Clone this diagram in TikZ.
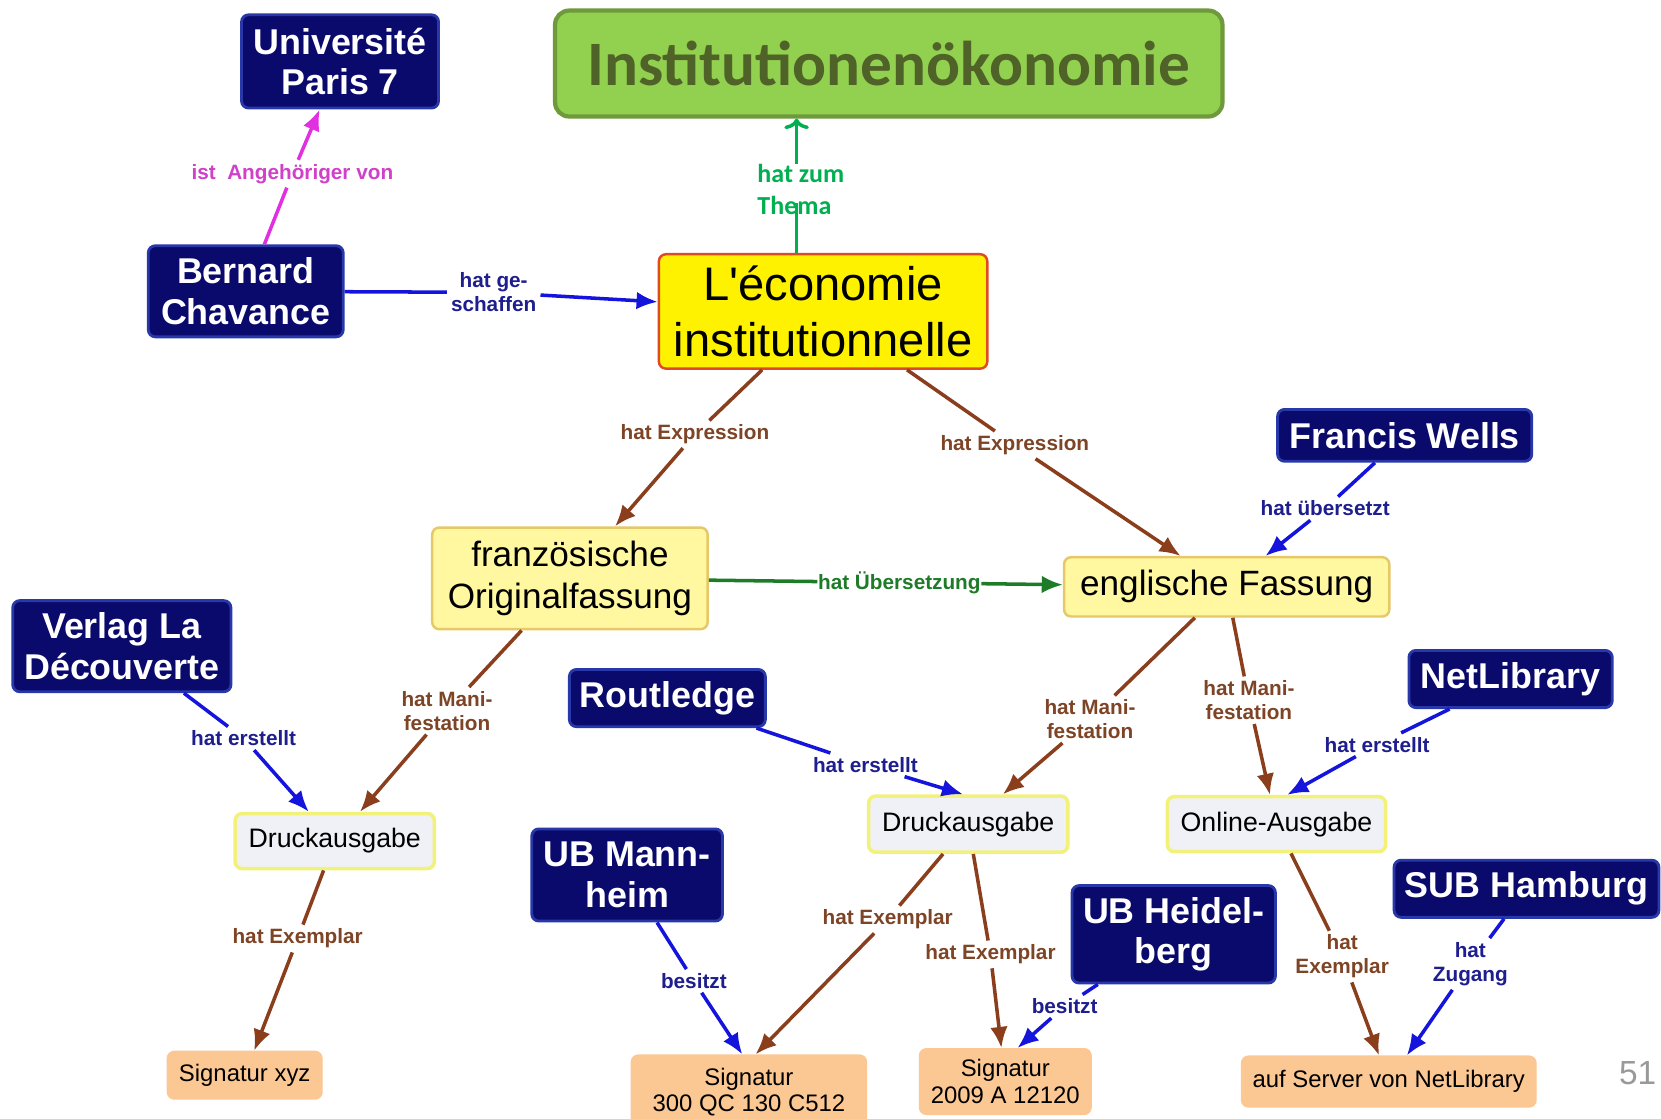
\documentclass[tikz,border=0pt]{standalone}
\usepackage{fontspec}
\setmainfont{Liberation Sans}
\newfontfamily\calfont{Carlito}
\usepackage{tikz}
\usetikzlibrary{arrows.meta}
\usepackage{xcolor}

\definecolor{navyfill}{HTML}{0A0A6C}
\definecolor{navyedge}{HTML}{2838A8}
\definecolor{topicfill}{HTML}{92D050}
\definecolor{topicedge}{HTML}{6E9A3C}
\definecolor{topictext}{HTML}{4F6228}
\definecolor{workedge}{HTML}{E04A22}
\definecolor{exprfill}{HTML}{FFF8A0}
\definecolor{expredge}{HTML}{E6C868}
\definecolor{maniffill}{HTML}{EFF1F6}
\definecolor{manifedge}{HTML}{F2F27A}
\definecolor{itemfill}{HTML}{FBC894}
\definecolor{arrbrown}{HTML}{8B3E1C}
\definecolor{txtbrown}{HTML}{7E4426}
\definecolor{arrblue}{HTML}{1414DC}
\definecolor{txtblue}{HTML}{1E1E8E}
\definecolor{arrmagenta}{HTML}{E030E0}
\definecolor{txtmagenta}{HTML}{D040C8}
\definecolor{arrgreen}{HTML}{1E7B28}
\definecolor{themagreen}{HTML}{00B050}

\newlength\unitpx
\setlength\unitpx{0.10593mm}

\tikzset{
  boxwh/.style 2 args={minimum width=#1\unitpx, minimum height=#2\unitpx},
  person/.style={fill=navyfill, draw=navyedge, line width=0.8pt, rounded corners=2pt,
    text=white, align=center, inner sep=0pt,
    font=\fontsize{10.2}{11.5}\selectfont\bfseries},
  topic/.style={fill=topicfill, draw=topicedge, line width=1.2pt, rounded corners=4pt,
    text=topictext, inner sep=0pt, font=\calfont\fontsize{18}{20}\selectfont\bfseries},
  mainwork/.style={fill=yellow, draw=workedge, line width=0.7pt, rounded corners=2pt,
    align=center, inner sep=0pt, font=\fontsize{13.4}{15.7}\selectfont},
  expr/.style={fill=exprfill, draw=expredge, line width=0.7pt, rounded corners=2pt,
    align=center, inner sep=0pt, font=\fontsize{10}{11.8}\selectfont},
  manif/.style={fill=maniffill, draw=manifedge, line width=1pt, rounded corners=2pt,
    inner sep=0pt, font=\fontsize{7.6}{9}\selectfont},
  item/.style={fill=itemfill, draw=itemfill, rounded corners=2pt, align=center,
    inner sep=0pt, font=\fontsize{6.8}{7.6}\selectfont},
  rel/.style={align=center, inner sep=1pt, font=\fontsize{5.9}{6.8}\selectfont\bfseries},
  brownarr/.style={draw=arrbrown, line width=1pt, -{Latex[length=6pt,width=5pt]}},
  bluearr/.style={draw=arrblue, line width=1pt, -{Latex[length=6pt,width=5pt]}},
  magentaarr/.style={draw=arrmagenta, line width=1pt, -{Latex[length=6pt,width=5pt]}},
  greenarr/.style={draw=arrgreen, line width=1pt, -{Latex[length=6pt,width=5pt]}},
  themaarr/.style={draw=themagreen, line width=1pt},
}

\begin{document}
\begin{tikzpicture}[x=0.10593mm, y=-0.10593mm]
    \useasboundingbox (0,0) rectangle (1568,1056.3);
    \fill[white] (0,0) rectangle (1568,1056.3);

    % concepts
    \node[person, boxwh={186}{88}] (univ) at (321,58) {Université\\Paris 7};
    \node[topic, boxwh={630}{100}] (inst) at (839,60) {Institutionenökonomie};
    \node[person, boxwh={184}{86}] (bernard) at (232,275) {Bernard\\Chavance};
    \node[mainwork, boxwh={310}{108}] (econ) at (777,294) {L\textquotesingle économie\\institutionnelle};
    \node[expr, boxwh={260}{96}] (franz) at (538,546) {französische\\Originalfassung};
    \node[expr, boxwh={307}{56}] (engl) at (1158,554) {englische Fassung};
    \node[person, boxwh={240}{49}] (francis) at (1326,411) {Francis Wells};
    \node[person, boxwh={206}{86}] (verlag) at (115,610) {Verlag La\\Découverte};
    \node[manif, boxwh={188}{52}] (druckfr) at (316,794) {Druckausgabe};
    \node[person, boxwh={185}{54}] (routledge) at (630,659) {Routledge};
    \node[manif, boxwh={188}{53}] (druckeng) at (914,778) {Druckausgabe};
    \node[manif, boxwh={206}{52}] (online) at (1205,778) {Online-Ausgabe};
    \node[person, boxwh={192}{54}] (netlib) at (1426,641) {NetLibrary};
    \node[person, boxwh={180}{87}] (ubma) at (592,826) {UB Mann-\\heim};
    \node[person, boxwh={192}{92}] (ubhd) at (1108,882) {UB Heidel-\\berg};
    \node[person, boxwh={250}{54}] (subhh) at (1441,839) {SUB Hamburg};
    \node[item, boxwh={146}{45}] (sigxyz) at (231,1015) {Signatur xyz};
    \node[item, boxwh={222}{70}] (sigma) at (707,1031) {Signatur\\300 QC 130 C512};
    \node[item, boxwh={162}{62}] (sighd) at (949,1021) {Signatur\\2009 A 12120};
    \node[item, boxwh={278}{48}] (server) at (1311,1021) {auf Server von NetLibrary};

    \node[text=gray!80, font=\fontsize{9.5}{11}\selectfont] (pagenum) at (1546,1013) {51};

    % link labels
    \node[rel, text=txtmagenta] (lmember) at (276,164) {ist\ \ Angehöriger von};
    \node[align=left, inner sep=0pt, text=themagreen,
          font=\calfont\fontsize{7.4}{9}\selectfont\bfseries] (lthema) at (756,179) {hat zum\\Thema};
    \node[rel, text=txtblue] (lcreated) at (466,276) {hat ge-\\schaffen};
    \node[rel, text=txtbrown] (lexpfr) at (656,410) {hat Expression};
    \node[rel, text=txtbrown] (lexpen) at (958,420) {hat Expression};
    \node[rel, text=txtblue] (ltrans) at (1251,480) {hat übersetzt};
    \node[rel, text=arrgreen, inner sep=0pt] (ltransl) at (849,550) {hat Übersetzung};
    \node[rel, text=txtblue] (lmadefr) at (230,697) {hat erstellt};
    \node[rel, text=txtbrown] (lmanfr) at (422,671) {hat Mani-\\festation};
    \node[rel, text=txtblue] (lmadeeng) at (817,722) {hat erstellt};
    \node[rel, text=txtbrown] (lmaneng) at (1029,679) {hat Mani-\\festation};
    \node[rel, text=txtbrown] (lmanon) at (1179,661) {hat Mani-\\festation};
    \node[rel, text=txtblue] (lmadeon) at (1300,703) {hat erstellt};
    \node[rel, text=txtbrown] (lcopyfr) at (281,886) {hat Exemplar};
    \node[rel, text=txtblue] (lownma) at (655,926) {besitzt};
    \node[rel, text=txtbrown] (lcopyma) at (838,868) {hat Exemplar};
    \node[rel, text=txtbrown] (lcopyhd) at (935,901) {hat Exemplar};
    \node[rel, text=txtblue] (lownhd) at (1005,950) {besitzt};
    \node[rel, text=txtbrown] (lcopyon) at (1267,903) {hat\\Exemplar};
    \node[rel, text=txtblue] (laccess) at (1388,910) {hat\\Zugang};

    % topic link, the line runs into the label
    \coordinate (thm) at (752,192);
    \draw[themaarr] (econ.north -| thm) -- (thm);
    \draw[themaarr, -{To[length=3pt,width=7pt]}] (lthema.north -| thm) -- (inst.south -| thm);

    % links
    \draw[magentaarr] (bernard) -- (lmember) -- (univ);
    \draw[bluearr] (bernard) -- (lcreated) -- (econ);
    \draw[brownarr] (econ) -- (lexpfr) -- (franz);
    \draw[brownarr] (econ) -- (lexpen) -- (engl);
    \draw[bluearr] (francis) -- (ltrans) -- (engl);
    \draw[greenarr] (franz) -- (ltransl) -- (engl);
    \draw[bluearr] (verlag) -- (lmadefr) -- (druckfr);
    \draw[brownarr] (franz) -- (lmanfr) -- (druckfr);
    \draw[bluearr] (routledge) -- (lmadeeng) -- (druckeng.100);
    \draw[brownarr] (engl) -- (lmaneng) -- (druckeng);
    \draw[brownarr] (engl) -- (lmanon) -- (online);
    \draw[bluearr] (netlib) -- (lmadeon) -- (online.70);
    \draw[brownarr] (druckfr) -- (lcopyfr) -- (sigxyz);
    \draw[bluearr] (ubma) -- (lownma) -- (sigma.100);
    \draw[brownarr] (druckeng) -- (lcopyma) -- (sigma.80);
    \draw[brownarr] (druckeng) -- (lcopyhd) -- (sighd);
    \draw[bluearr] (ubhd) -- (lownhd) -- (sighd.70);
    \draw[brownarr] (online) -- (lcopyon) -- (server);
    \draw[bluearr] (subhh) -- (laccess) -- (server);
\end{tikzpicture}
\end{document}
